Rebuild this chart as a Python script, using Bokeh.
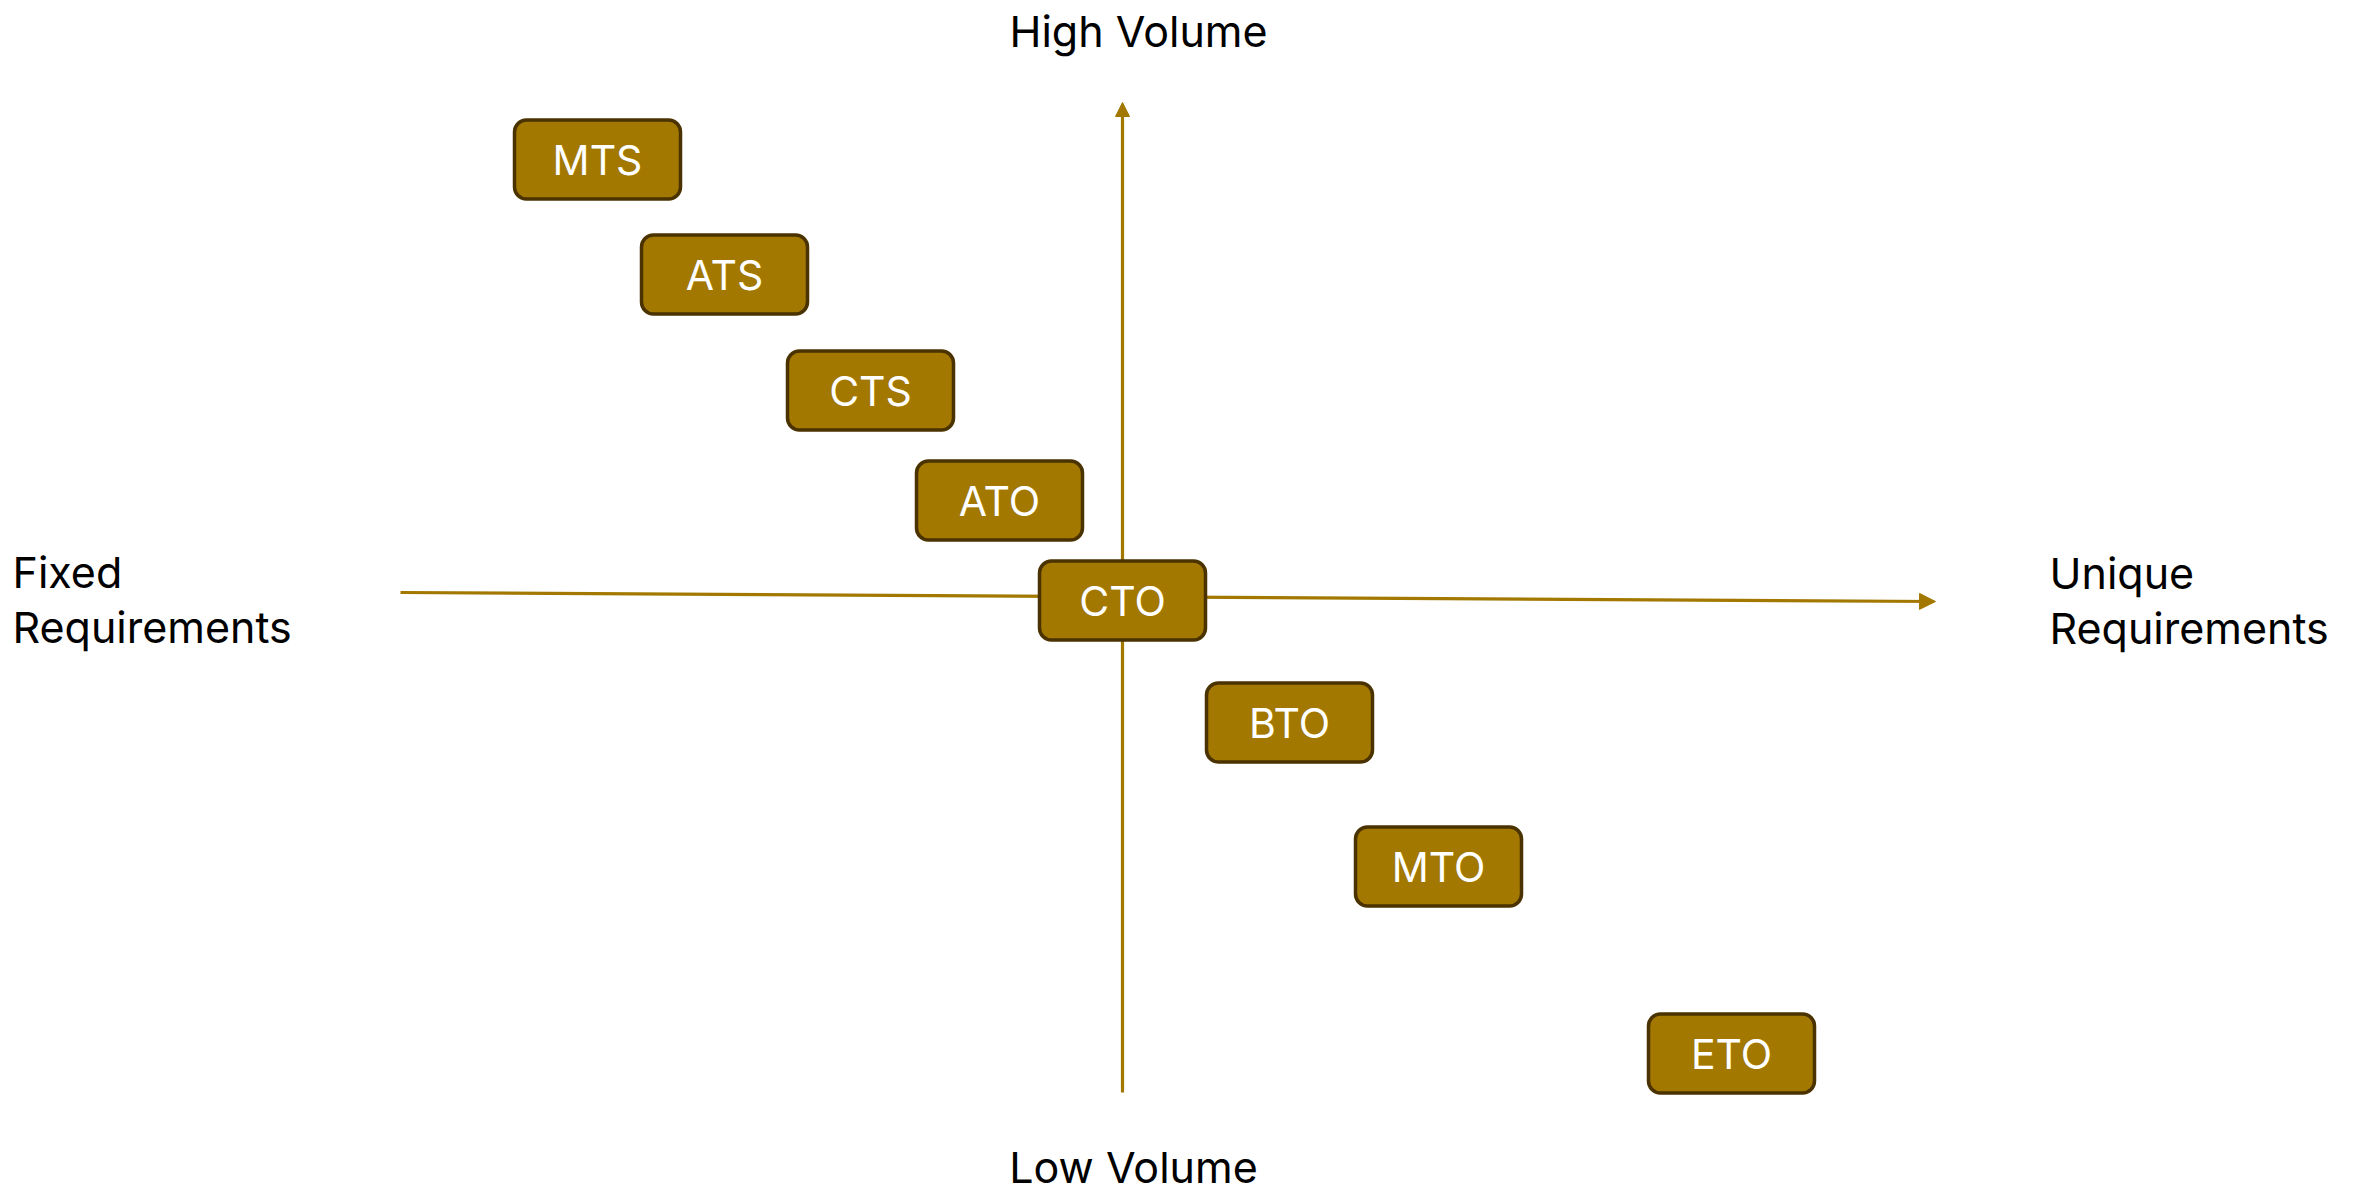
from bokeh.plotting import figure
from bokeh.models import Range1d, Arrow, NormalHead, ColumnDataSource
from bokeh.core.properties import value
from bokeh.embed import file_html
from bokeh.resources import INLINE

# Strategies: position on (requirement uniqueness, volume) plane
strategies = ["MTS", "ATS", "CTS", "ATO", "CTO", "BTO", "MTO", "ETO"]
uniqueness = [-5.25, -3.98, -2.52, -1.23, 0.0, 1.67, 3.16, 6.09]
volume = [4.41, 3.26, 2.10, 1.00, 0.0, -1.22, -2.66, -4.53]

axis_labels = ["High Volume", "Low Volume", "Fixed\nRequirements", "Unique\nRequirements"]

GOLD = "#A37800"
DARK = "#4A3300"
FONT = "Inter"

W, H = 2365, 1194
X0, Y1 = -11.22, 6.00          # 100 px per unit
p = figure(width=W, height=H, output_backend="svg", toolbar_location=None,
           x_range=Range1d(X0, X0 + W / 100), y_range=Range1d(Y1 - H / 100, Y1),
           min_border=0, x_axis_location=None, y_axis_location=None,
           outline_line_color=None, background_fill_color="white",
           border_fill_color="white")
p.xgrid.visible = False
p.ygrid.visible = False

# axes arrows
p.add_layout(Arrow(x_start=-7.22, y_start=0.08, x_end=8.13, y_end=-0.01,
                   line_color=GOLD, line_width=3.2, level="underlay",
                   end=NormalHead(size=16, fill_color=GOLD, line_color=GOLD, line_width=1)))
p.add_layout(Arrow(x_start=0.0, y_start=-4.92, x_end=0.0, y_end=4.98,
                   line_color=GOLD, line_width=3.2, level="underlay",
                   end=NormalHead(size=14, fill_color=GOLD, line_color=GOLD, line_width=1)))

bw, bh = 1.66, 0.79
src = ColumnDataSource(dict(
    name=strategies, x=uniqueness, y=volume,
    left=[u - bw / 2 for u in uniqueness], right=[u + bw / 2 for u in uniqueness],
    top=[v + bh / 2 for v in volume], bottom=[v - bh / 2 for v in volume],
))
p.quad(left="left", right="right", top="top", bottom="bottom", source=src,
       fill_color=GOLD, line_color=DARK, line_width=3.5, border_radius=12)
p.text(x="x", y="y", text="name", source=src, text_color="white",
       text_font=value(FONT), text_font_size="41px",
       text_align="center", text_baseline="middle")

# quadrant labels
p.text(x=[0.16], y=[5.70], text=[axis_labels[0]], text_font=value(FONT),
       text_font_size="43px", text_color="black", text_align="center", text_baseline="middle")
p.text(x=[0.11], y=[-5.66], text=[axis_labels[1]], text_font=value(FONT),
       text_font_size="43px", text_color="black", text_align="center", text_baseline="middle")
p.text(x=[-11.10], y=[0.01], text=[axis_labels[2]], text_font=value(FONT),
       text_font_size="43px", text_color="black", text_align="left", text_baseline="middle",
       text_line_height=1.06)
p.text(x=[9.27], y=[0.00], text=[axis_labels[3]], text_font=value(FONT),
       text_font_size="43px", text_color="black", text_align="left", text_baseline="middle",
       text_line_height=1.06)

open("out.html", "w").write(file_html(p, INLINE))
